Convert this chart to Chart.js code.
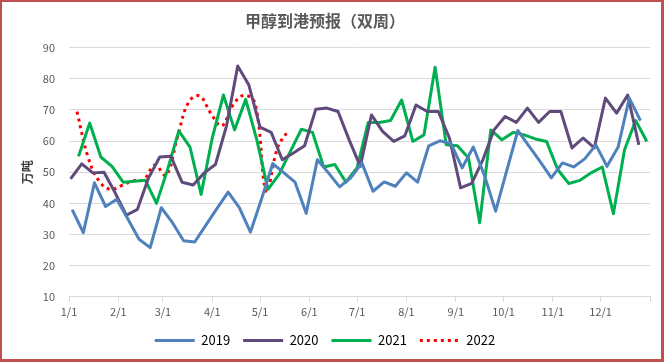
<!DOCTYPE html>
<html>
<head>
<meta charset="utf-8">
<script src="https://cdn.jsdelivr.net/npm/chart.js@4.4.1/dist/chart.umd.min.js"></script>
<style>
    html, body { margin: 0; padding: 0; background: #fff; }
    #wrap { position: relative; width: 667px; height: 362px; }
    #frame {
        position: absolute; left: 0; top: 0; width: 664px; height: 362px;
        box-sizing: border-box; border-style: solid; border-color: #C0504D;
        border-width: 2px 3px 3px 2px; pointer-events: none;
    }
</style>
</head>
<body>
<div id="wrap">
    <canvas id="arrivalChart" width="667" height="362"></canvas>
    <div id="frame"></div>
</div>
<script>
// month starts as day-of-year, with labels for the x axis
const monthStarts = [0, 31, 59, 90, 120, 151, 181, 212, 243, 273, 304, 334, 365];
const monthLabels = ["1/1", "2/1", "3/1", "4/1", "5/1", "6/1", "7/1", "8/1", "9/1", "10/1", "11/1", "12/1", ""];

// weekly reports (Thursdays); first report day-of-year per year
const firstDay2019 = 2;
const firstDay2020 = 1;
const firstDay2021 = 6;
const firstDay2022 = 5;

// arrivals, 10k tonnes
const values2019 = [38, 30.6, 46.6, 39, 41.3, 35, 28.5, 25.8, 38.6, 33.8, 28, 27.6, 33, 38.4, 43.6, 38.6, 30.8, 41.5,
    52.8, 49.8, 46.8, 36.8, 54, 49.8, 45.3, 48.2, 53, 43.9, 46.9, 45.5, 49.8, 46.8, 58.5, 60.1, 59.2, 51.4, 58.1,
    49, 37.5, 50.5, 63.4, 58.4, 53.4, 48.2, 53, 51.7, 54.3, 58.8, 51.9, 58.1, 73.8, 66.6];
const values2020 = [47.9, 52.7, 49.8, 50, 43.4, 36.2, 38.1, 48.2, 54.9, 55.1, 46.8, 45.9, 49.8, 52.5, 65, 84.1, 78, 64.5,
    62.8, 54, 56.2, 58.5, 70.2, 70.6, 69.5, 60.4, 51.9, 68.4, 63.1, 59.9, 61.7, 71.6, 69.5, 69.5, 61, 45, 46.4,
    54, 63.6, 67.9, 66, 70.6, 66, 69.5, 69.5, 57.8, 61, 57.8, 73.8, 69, 74.8, 58.8];
const values2021 = [55.1, 65.8, 54.9, 51.9, 46.8, 47.1, 47.4, 40, 51, 63.3, 58.1, 42.9, 61, 74.8, 63.6, 73.4, 60.4, 44.5,
    49.3, 56.6, 63.8, 62.8, 51.7, 52.5, 46.8, 51.5, 66, 66, 66.6, 73.2, 59.9, 62, 83.7, 58.8, 58.5, 54.6, 33.8,
    63.6, 60.4, 62.8, 62, 60.7, 59.9, 50.9, 46.4, 47.4, 49.8, 51.7, 36.7, 57.2, 66.6, 59.9];
const values2022 = [69.5, 54.8, 47.1, 44.5, 45.7, 47.2, 47.7, 52.3, 49, 61, 72.4, 74.5, 69, 64.9, 71.6, 74.7, 72, 43.9,
    57.8, 63.6];

function weekly(firstDay, values) {
    return values.map((v, i) => ({ x: firstDay + 7 * i, y: v }));
}

Chart.defaults.font.family = '"Noto Sans CJK SC", "Noto Sans", sans-serif';

const data = {
    datasets: [
        {
            label: "2019",
            data: weekly(firstDay2019, values2019),
            borderColor: "#4F81BD",
            backgroundColor: "#4F81BD",
            borderWidth: 3,
        },
        {
            label: "2020",
            data: weekly(firstDay2020, values2020),
            borderColor: "#604A7B",
            backgroundColor: "#604A7B",
            borderWidth: 3,
        },
        {
            label: "2021",
            data: weekly(firstDay2021, values2021),
            borderColor: "#00B050",
            backgroundColor: "#00B050",
            borderWidth: 3,
        },
        {
            label: "2022",
            data: weekly(firstDay2022, values2022),
            borderColor: "#FF0000",
            backgroundColor: "#FF0000",
            borderWidth: 3,
            borderDash: [3, 4],
            tension: 0.4,
        },
    ],
};

const config = {
    type: "line",
    data: data,
    options: {
        responsive: false,
        animation: false,
        devicePixelRatio: 1,
        layout: { padding: { left: 0, right: 17, top: 3, bottom: 5 } },
        elements: {
            point: { radius: 0 },
            line: { borderJoinStyle: "round" },
        },
        plugins: {
            title: {
                display: true,
                text: "甲醇到港预报（双周）",
                color: "#595959",
                font: { size: 16, weight: "bold" },
                padding: { top: 8, bottom: 17.5 },
            },
            legend: {
                position: "bottom",
                labels: {
                    usePointStyle: true,
                    pointStyle: "line",
                    pointStyleWidth: 40,
                    color: "#000",
                    font: { size: 13 },
                    padding: 13,
                    // point styles drop the dataset dash, so put it back
                    generateLabels: (chart) => {
                        const items = Chart.defaults.plugins.legend.labels.generateLabels(chart);
                        items.forEach((item) => {
                            const ds = chart.data.datasets[item.datasetIndex];
                            item.lineDash = ds.borderDash || [];
                            item.lineWidth = ds.borderWidth;
                        });
                        return items;
                    },
                },
            },
            tooltip: { enabled: false },
        },
        scales: {
            x: {
                type: "linear",
                min: 0,
                max: 365,
                afterBuildTicks: (scale) => {
                    scale.ticks = monthStarts.map((v) => ({ value: v }));
                },
                ticks: {
                    callback: (value, index) => monthLabels[index],
                    autoSkip: false,
                    maxRotation: 0,
                    color: "#595959",
                    font: { size: 11 },
                    padding: 3,
                },
                grid: { drawOnChartArea: false, tickLength: 5, color: "#D9D9D9" },
                border: { color: "#D9D9D9" },
            },
            y: {
                min: 10,
                max: 90,
                ticks: { stepSize: 10, color: "#595959", font: { size: 11 }, padding: 14 },
                grid: { color: "#D9D9D9", drawTicks: false },
                border: { display: false },
                title: {
                    display: true,
                    text: "万吨",
                    color: "#404040",
                    font: { size: 12, weight: "bold" },
                    padding: { top: 20 },
                },
                afterFit: (scale) => {
                    scale.width = 69;
                },
            },
        },
    },
};

new Chart(document.getElementById("arrivalChart"), config);
</script>
</body>
</html>
